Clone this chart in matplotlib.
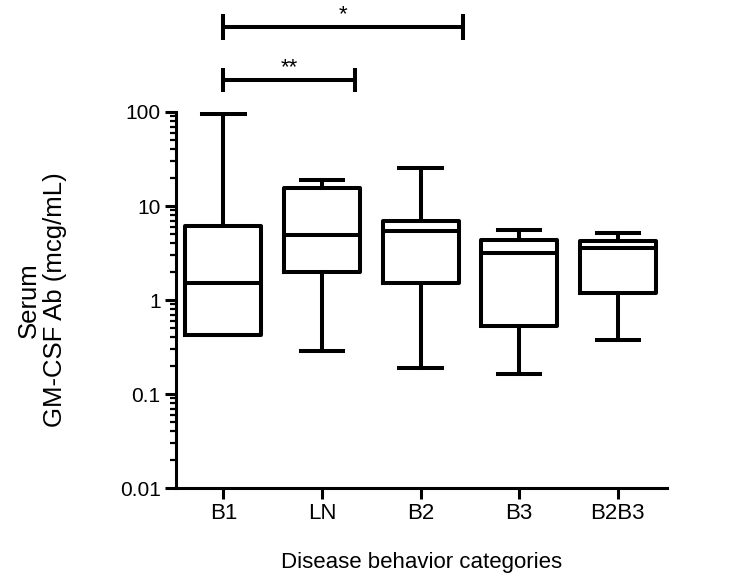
import matplotlib
matplotlib.use("Agg")
import matplotlib.pyplot as plt
from matplotlib.transforms import blended_transform_factory
from matplotlib.ticker import LogLocator, NullFormatter

plt.rcParams['font.family'] = ['Liberation Sans', 'DejaVu Sans']

# data
categories = ['B1', 'LN', 'B2', 'B3', 'B2B3']
whis_low = [0.42, 0.29, 0.19, 0.165, 0.375]
q1 = [0.42, 2.0, 1.5, 0.53, 1.19]
median = [1.5, 4.9, 5.4, 3.2, 3.6]
q3 = [6.1, 15.5, 6.9, 4.35, 4.25]
whis_high = [95.0, 19.0, 25.5, 5.6, 5.2]
sig_labels = ['**', '*']

stats = []
for i, name in enumerate(categories):
    stats.append({'label': name, 'whislo': whis_low[i], 'q1': q1[i], 'med': median[i],
                  'q3': q3[i], 'whishi': whis_high[i], 'fliers': []})

fig = plt.figure(figsize=(7.5, 5.79), dpi=100)
ax = fig.add_axes([0.2347, 0.157, 0.6547, 0.6496])

lw = 2.9
ax.bxp(stats, positions=range(len(categories)), widths=0.77, capwidths=0.43,
       showfliers=False, patch_artist=False,
       boxprops=dict(color='black', linewidth=lw),
       whiskerprops=dict(color='black', linewidth=lw),
       capprops=dict(color='black', linewidth=lw),
       medianprops=dict(color='black', linewidth=lw))

ax.set_yscale('log')
ax.set_ylim(0.01, 100)
ax.set_xlim(-0.48, 4.5)
ax.set_yticks([0.01, 0.1, 1, 10, 100])
ax.set_yticklabels(['0.01', '0.1', '1', '10', '100'], fontsize=15)
ax.yaxis.set_minor_locator(LogLocator(base=10, subs=range(2, 10)))
ax.yaxis.set_minor_formatter(NullFormatter())
ax.set_xticks(range(len(categories)))
ax.set_xticklabels(categories, fontsize=16)

for s in ['top', 'right']:
    ax.spines[s].set_visible(False)
for s in ['left', 'bottom']:
    ax.spines[s].set_linewidth(2.2)
ax.tick_params(axis='both', which='major', direction='out', width=2.2, length=8, pad=3)
ax.tick_params(axis='y', which='minor', direction='out', width=1.6, length=4.5)

ax.set_xlabel('Disease behavior categories', fontsize=16, labelpad=20)
ax.set_ylabel('Serum\nGM-CSF Ab (mcg/mL)', fontsize=18.5, linespacing=1.1)
ax.yaxis.set_label_coords(-0.222, 0.5)

# significance bars
trans = blended_transform_factory(ax.transData, ax.transAxes)
bars = [(0.0, 1.34, 1.085, 0.031), (0.0, 2.43, 1.226, 0.034)]
for (x0, x1, yb, h), lab in zip(bars, sig_labels):
    ax.plot([x0, x1], [yb, yb], color='black', lw=lw, transform=trans, clip_on=False,
            solid_capstyle='butt')
    for xx in (x0, x1):
        ax.plot([xx, xx], [yb - h, yb + h], color='black', lw=lw, transform=trans,
                clip_on=False, solid_capstyle='butt')
    ax.text((x0 + x1) / 2, yb + 0.005, lab, transform=trans, ha='center', va='bottom',
            fontsize=16)

fig.savefig('out.png', dpi=100)
